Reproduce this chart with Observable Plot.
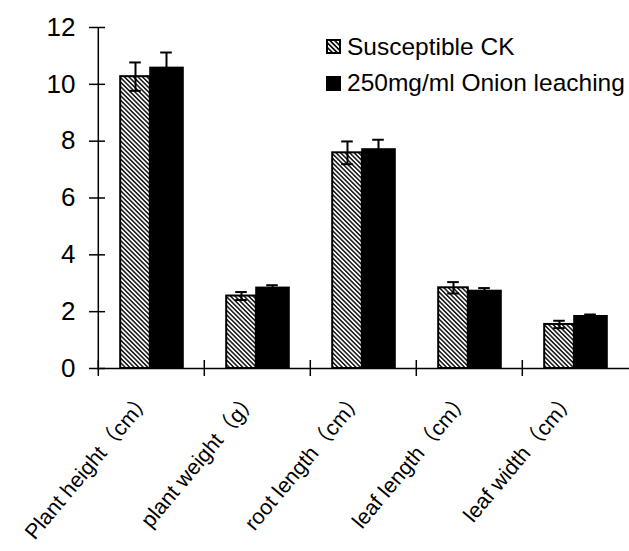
<!DOCTYPE html>
<html>
<head>
<meta charset="utf-8">
<script src="https://cdn.jsdelivr.net/npm/d3@7"></script>
<script src="https://cdn.jsdelivr.net/npm/@observablehq/plot@0.6"></script>
<style>
  body { margin: 0; background: #fff; }
  #wrap { position: relative; width: 629px; height: 551px; background: #fff; }
  .lg-text { position: absolute; font-family: "Liberation Sans", Arial, sans-serif; font-size: 24.5px; line-height: 24px; color: #000; white-space: nowrap; }
  .lg-sw { position: absolute; width: 15px; height: 15px; }
</style>
</head>
<body>
<div id="wrap"></div>
<script>
const categories = ["Plant height（cm）", "plant weight（g）", "root length（cm）", "leaf length（cm）", "leaf width（cm）"];
const seriesNames = ["Susceptible CK", "250mg/ml Onion leaching"];
const ckValues = [10.27, 2.55, 7.59, 2.84, 1.55];
const ckErrors = [0.5, 0.14, 0.4, 0.2, 0.13];
const onionValues = [10.57, 2.83, 7.70, 2.72, 1.83];
const onionErrors = [0.55, 0.1, 0.35, 0.11, 0.07];
const yTicks = [0, 2, 4, 6, 8, 10, 12];

const W = 629, H = 551, mL = 97, mR = 0, mT = 27, mB = 183;
const step = (W - mL - mR) / categories.length;
const font = '"Liberation Sans", Arial, "Noto Sans CJK SC", sans-serif';

const ck = categories.map((c, i) => ({cat: c, v: ckValues[i], e: ckErrors[i]}));
const onion = categories.map((c, i) => ({cat: c, v: onionValues[i], e: onionErrors[i]}));

const ckDx = -16, onDx = 15, capHalf = 6;

const plot = Plot.plot({
  width: W, height: H,
  marginLeft: mL, marginRight: mR, marginTop: mT, marginBottom: mB,
  style: {fontFamily: font, background: "#fff", color: "#000", overflow: "visible"},
  x: {domain: categories, padding: 0, axis: null, label: null},
  y: {domain: [0, 12], axis: null, label: null},
  marks: [
    Plot.barY(ck, {x: "cat", y: "v", fill: "url(#hatch)", stroke: "#000", strokeWidth: 2,
      insetLeft: step / 2 - 31, insetRight: step / 2 + 1}),
    Plot.barY(onion, {x: "cat", y: "v", fill: "#000", stroke: "#000", strokeWidth: 2,
      insetLeft: step / 2 - 1, insetRight: step / 2 - 32}),
    Plot.ruleX(ck, {x: "cat", y1: d => d.v - d.e, y2: d => d.v + d.e, dx: ckDx, stroke: "#000", strokeWidth: 2}),
    Plot.tickY(ck, {x: "cat", y: d => d.v + d.e, stroke: "#000", strokeWidth: 2,
      insetLeft: step / 2 + ckDx - capHalf, insetRight: step / 2 - ckDx - capHalf}),
    Plot.tickY(ck, {x: "cat", y: d => d.v - d.e, stroke: "#000", strokeWidth: 2,
      insetLeft: step / 2 + ckDx - capHalf, insetRight: step / 2 - ckDx - capHalf}),
    Plot.ruleX(onion, {x: "cat", y1: d => d.v - d.e, y2: d => d.v + d.e, dx: onDx, stroke: "#000", strokeWidth: 2}),
    Plot.tickY(onion, {x: "cat", y: d => d.v + d.e, stroke: "#000", strokeWidth: 2,
      insetLeft: step / 2 + onDx - capHalf, insetRight: step / 2 - onDx - capHalf}),
    // axis lines
    Plot.ruleY([0], {stroke: "#000", strokeWidth: 1.5}),
    Plot.ruleX([categories[0]], {x: d => d, y1: () => yTicks[0], y2: () => yTicks[yTicks.length - 1], dx: -step / 2, stroke: "#000", strokeWidth: 1.5}),
    // y axis ticks & labels
    Plot.axisY({ticks: yTicks, tickSize: 16, dx: 8, tickPadding: 14, fontSize: 26, strokeWidth: 1.5, label: null, tickFormat: d => String(d)}),
    // x boundary ticks
    Plot.axisX({ticks: categories, tickSize: 16, dy: -8, dx: -step / 2, strokeWidth: 1.5, label: null, tickFormat: () => ""}),
    // x labels
    Plot.axisX({ticks: categories, tickSize: 0, tickRotate: -50, tickPadding: 26, dx: -3, fontSize: 21.5, label: null})
  ]
});

const ns = "http://www.w3.org/2000/svg";
const defs = document.createElementNS(ns, "defs");
defs.innerHTML = '<pattern id="hatch" patternUnits="userSpaceOnUse" width="3.2" height="3.2" patternTransform="rotate(-45)"><rect width="3.2" height="3.2" fill="#fff"/><line x1="1.6" y1="-1" x2="1.6" y2="4.2" stroke="#000" stroke-width="1.4"/></pattern>';
plot.insertBefore(defs, plot.firstChild);

const wrap = document.getElementById("wrap");
wrap.appendChild(plot);

// legend (HTML overlay)
const swatches = [
  '<svg class="lg-sw" viewBox="0 0 15 15"><defs><pattern id="hatchL" patternUnits="userSpaceOnUse" width="3.4" height="3.4" patternTransform="rotate(-45)"><rect width="3.4" height="3.4" fill="#fff"/><line x1="1.7" y1="-1" x2="1.7" y2="4.4" stroke="#000" stroke-width="1.6"/></pattern></defs><rect x="1" y="1" width="13" height="13" fill="url(#hatchL)" stroke="#000" stroke-width="2"/></svg>',
  '<svg class="lg-sw" viewBox="0 0 15 15"><rect x="0" y="0" width="15" height="15" fill="#000"/></svg>'
];
const tops = [39, 76];
const textTops = [35, 71];
seriesNames.forEach((name, i) => {
  const sw = document.createElement("div");
  sw.innerHTML = swatches[i];
  const s = sw.firstChild;
  s.style.left = "326px";
  s.style.top = tops[i] + "px";
  wrap.appendChild(s);
  const t = document.createElement("div");
  t.className = "lg-text";
  t.textContent = name;
  t.style.left = "347px";
  t.style.top = textTops[i] + "px";
  wrap.appendChild(t);
});
</script>
</body>
</html>
